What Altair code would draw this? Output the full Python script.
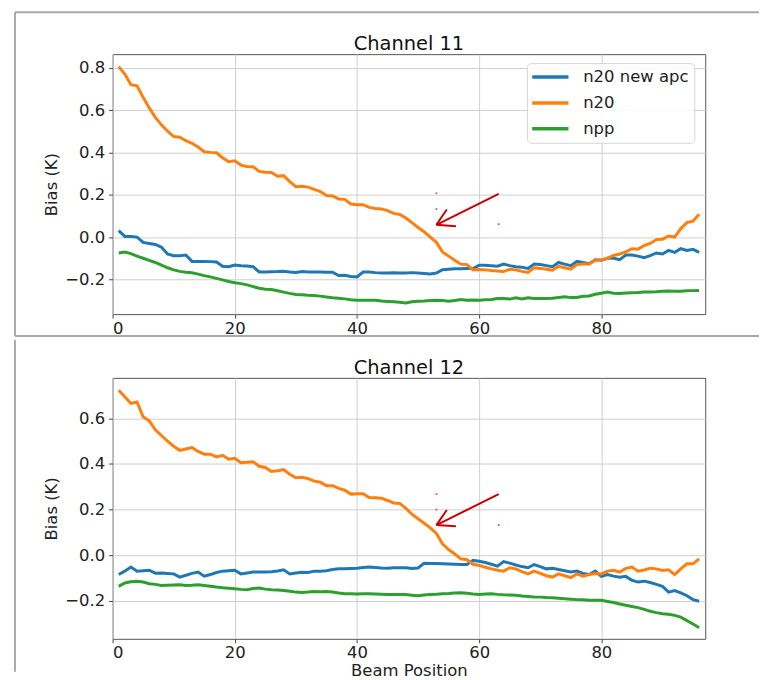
import altair as alt
import pandas as pd

# ---------------- data ----------------
beam = list(range(1, 97))
series_names = ["n20 new apc", "n20", "npp"]
series_colors = ["#1f77b4", "#ff7f0e", "#2ca02c"]

x_ticks = [0, 20, 40, 60, 80]
ch11_y_ticks = [-0.2, 0.0, 0.2, 0.4, 0.6, 0.8]
ch12_y_ticks = [-0.2, 0.0, 0.2, 0.4, 0.6]

ch11_apc = [0.03, 0.003, 0.003, 0.0, -0.025, -0.03, -0.035, -0.048, -0.08, -0.088,
            -0.088, -0.085, -0.115, -0.115, -0.115, -0.116, -0.118, -0.138, -0.14, -0.132,
            -0.135, -0.137, -0.14, -0.165, -0.165, -0.164, -0.163, -0.161, -0.165, -0.167,
            -0.163, -0.165, -0.165, -0.165, -0.166, -0.166, -0.182, -0.18, -0.186, -0.188,
            -0.165, -0.165, -0.168, -0.17, -0.17, -0.169, -0.17, -0.17, -0.168, -0.17,
            -0.172, -0.174, -0.17, -0.154, -0.152, -0.15, -0.15, -0.149, -0.149, -0.133,
            -0.133, -0.135, -0.138, -0.128, -0.135, -0.14, -0.143, -0.148, -0.127, -0.13,
            -0.135, -0.14, -0.12, -0.128, -0.135, -0.115, -0.12, -0.126, -0.107, -0.11,
            -0.1, -0.1, -0.107, -0.085, -0.085, -0.09, -0.097, -0.088, -0.075, -0.08,
            -0.063, -0.072, -0.055, -0.063, -0.058, -0.072]

ch11_n20 = [0.805, 0.77, 0.72, 0.714, 0.66, 0.61, 0.565, 0.53, 0.50, 0.475,
            0.472, 0.455, 0.443, 0.425, 0.403, 0.40, 0.398, 0.375, 0.356, 0.36,
            0.34, 0.333, 0.332, 0.31, 0.306, 0.305, 0.287, 0.29, 0.262, 0.238,
            0.24, 0.236, 0.225, 0.215, 0.196, 0.194, 0.18, 0.178, 0.156, 0.153,
            0.153, 0.14, 0.135, 0.133, 0.125, 0.112, 0.107, 0.09, 0.068, 0.045,
            0.025, 0.0, -0.025, -0.07, -0.09, -0.11, -0.128, -0.13, -0.155, -0.153,
            -0.155, -0.158, -0.16, -0.163, -0.152, -0.155, -0.162, -0.167, -0.145, -0.148,
            -0.152, -0.157, -0.138, -0.145, -0.152, -0.13, -0.127, -0.127, -0.11, -0.107,
            -0.1, -0.087, -0.08, -0.07, -0.055, -0.057, -0.04, -0.03, -0.012, -0.01,
            0.005, 0.0, 0.04, 0.068, 0.075, 0.108]

ch11_npp = [-0.075, -0.071, -0.078, -0.09, -0.1, -0.11, -0.12, -0.133, -0.145, -0.155,
            -0.162, -0.166, -0.169, -0.175, -0.182, -0.188, -0.195, -0.202, -0.21, -0.216,
            -0.22, -0.226, -0.234, -0.242, -0.246, -0.248, -0.254, -0.26, -0.266, -0.271,
            -0.272, -0.275, -0.276, -0.279, -0.283, -0.287, -0.289, -0.292, -0.296, -0.298,
            -0.298, -0.298, -0.298, -0.302, -0.304, -0.306, -0.308, -0.311, -0.306, -0.303,
            -0.302, -0.3, -0.298, -0.3, -0.303, -0.3, -0.295, -0.298, -0.297, -0.298,
            -0.296, -0.295, -0.29, -0.29, -0.293, -0.287, -0.292, -0.287, -0.29, -0.29,
            -0.29, -0.289, -0.285, -0.282, -0.286, -0.285, -0.28, -0.278, -0.27, -0.265,
            -0.26, -0.265, -0.267, -0.264, -0.263, -0.262, -0.26, -0.259, -0.258, -0.256,
            -0.255, -0.256, -0.256, -0.254, -0.253, -0.252]

ch12_apc = [-0.085, -0.07, -0.052, -0.07, -0.068, -0.066, -0.079, -0.078, -0.08, -0.082,
            -0.096, -0.088, -0.08, -0.074, -0.092, -0.085, -0.076, -0.07, -0.068, -0.066,
            -0.082, -0.078, -0.074, -0.074, -0.074, -0.073, -0.069, -0.064, -0.082, -0.078,
            -0.075, -0.076, -0.07, -0.07, -0.068, -0.063, -0.06, -0.06, -0.058, -0.057,
            -0.054, -0.052, -0.054, -0.056, -0.057, -0.055, -0.055, -0.055, -0.058, -0.056,
            -0.035, -0.036, -0.037, -0.038, -0.039, -0.04, -0.041, -0.041, -0.023, -0.027,
            -0.032, -0.04, -0.048, -0.028, -0.035, -0.043, -0.05, -0.055, -0.041, -0.05,
            -0.06, -0.057, -0.063, -0.068, -0.074, -0.07, -0.08, -0.085, -0.07, -0.093,
            -0.085, -0.092, -0.097, -0.093, -0.11, -0.118, -0.114, -0.12, -0.128, -0.137,
            -0.162, -0.155, -0.165, -0.178, -0.195, -0.202]

ch12_n20 = [0.724, 0.695, 0.666, 0.672, 0.607, 0.589, 0.55, 0.525, 0.50, 0.478,
            0.46, 0.466, 0.472, 0.455, 0.443, 0.443, 0.431, 0.438, 0.421, 0.425,
            0.406, 0.408, 0.41, 0.39, 0.385, 0.367, 0.37, 0.376, 0.355, 0.34,
            0.342, 0.336, 0.325, 0.32, 0.305, 0.305, 0.293, 0.285, 0.268, 0.27,
            0.27, 0.253, 0.252, 0.25, 0.24, 0.229, 0.227, 0.205, 0.18, 0.16,
            0.14, 0.12, 0.095, 0.05, 0.025, 0.005, -0.016, -0.02, -0.04, -0.045,
            -0.053, -0.06, -0.066, -0.07, -0.055, -0.06, -0.072, -0.082, -0.07, -0.08,
            -0.09, -0.096, -0.082, -0.09, -0.098, -0.082, -0.092, -0.085, -0.08, -0.082,
            -0.07, -0.066, -0.074, -0.058, -0.052, -0.07, -0.065, -0.057, -0.06, -0.067,
            -0.064, -0.085, -0.06, -0.038, -0.038, -0.016]

ch12_npp = [-0.137, -0.122, -0.117, -0.114, -0.118, -0.125, -0.128, -0.133, -0.132, -0.131,
            -0.13, -0.133, -0.132, -0.13, -0.133, -0.136, -0.14, -0.143, -0.145, -0.147,
            -0.15, -0.152, -0.146, -0.144, -0.149, -0.152, -0.153, -0.155, -0.158, -0.162,
            -0.164, -0.162, -0.159, -0.16, -0.159, -0.162, -0.166, -0.169, -0.169, -0.17,
            -0.169, -0.169, -0.17, -0.171, -0.172, -0.172, -0.172, -0.173, -0.176, -0.178,
            -0.175, -0.172, -0.171, -0.169, -0.168, -0.166, -0.165, -0.167, -0.17, -0.172,
            -0.17, -0.169, -0.172, -0.174, -0.175, -0.176, -0.179, -0.181, -0.183, -0.184,
            -0.186, -0.187, -0.189, -0.191, -0.193, -0.195, -0.196, -0.198, -0.198, -0.198,
            -0.203, -0.208, -0.214, -0.22, -0.225, -0.23, -0.238, -0.246, -0.252, -0.257,
            -0.259, -0.264, -0.272, -0.287, -0.302, -0.318]

# red arrow annotations (shaft + two barbs), in data units
ch11_arrow_x = [63.2, 53.0, 53.0]
ch11_arrow_y = [0.204, 0.058, 0.058]
ch11_arrow_x2 = [53.0, 54.7, 56.2]
ch11_arrow_y2 = [0.058, 0.130, 0.051]
ch11_speck_x = [53.0, 53.0, 63.2]
ch11_speck_y = [0.207, 0.132, 0.061]

ch12_arrow_x = [63.2, 53.0, 53.0]
ch12_arrow_y = [0.268, 0.132, 0.132]
ch12_arrow_x2 = [53.0, 54.7, 56.2]
ch12_arrow_y2 = [0.132, 0.198, 0.127]
ch12_speck_x = [53.0, 53.0, 63.2]
ch12_speck_y = [0.268, 0.200, 0.132]

FONT = "DejaVu Sans"
FRAME = "#a9a9a9"


def long_df(apc, n20, npp):
    rows = []
    for name, vals in zip(series_names, [apc, n20, npp]):
        for b, v in zip(beam, vals):
            rows.append({"series": name, "beam": b, "bias": v})
    return pd.DataFrame(rows)


def frame_rule(x, x2, y, y2):
    return alt.Chart(pd.DataFrame({"k": [0]})).mark_rule(
        color=FRAME, strokeWidth=2
    ).encode(x=alt.value(x), x2=alt.value(x2), y=alt.value(y), y2=alt.value(y2))


def panel(title, apc, n20, npp, yticks, ydom, ax, ay, ax2, ay2, sx, sy,
          w, h, xtitle, frames):
    if xtitle:
        x_axis = alt.Axis(values=x_ticks, format="d", labelPadding=2,
                          titleY=37, titleBaseline="alphabetic")
    else:
        x_axis = alt.Axis(values=x_ticks, format="d", labelPadding=2)
    x_enc = alt.X("beam:Q", scale=alt.Scale(domain=[0, 97], nice=False, zero=False),
                  axis=x_axis, title=xtitle if xtitle else None)
    y_enc = alt.Y("bias:Q", scale=alt.Scale(domain=ydom, nice=False, zero=False),
                  axis=alt.Axis(values=yticks, format=".1f", titleX=-56, titleY=h / 2,
                                titleBaseline="alphabetic", titleAngle=270),
                  title="Bias (K)")
    lines = alt.Chart(long_df(apc, n20, npp)).mark_line(strokeWidth=3).encode(
        x=x_enc,
        y=y_enc,
        order=alt.Order("beam:Q"),
        color=alt.Color(
            "series:N",
            scale=alt.Scale(domain=series_names, range=series_colors),
            sort=series_names,
            legend=alt.Legend(
                title=None, orient="none", legendX=416, legendY=9,
                symbolType="M-2.6,0H2.6", symbolSize=196, symbolStrokeWidth=3.5,
                symbolOffset=9.5,
                labelFontSize=16.5, labelFont=FONT, labelColor="#222",
                labelOffset=24, rowPadding=8, padding=5,
                fillColor="rgba(255,255,255,0.85)", strokeColor="#d6d6d6",
                cornerRadius=4,
            ),
        ),
    )
    arrow = alt.Chart(pd.DataFrame({"beam": ax, "bias": ay, "beam2": ax2, "bias2": ay2})).mark_rule(
        color="#cc0000", strokeWidth=2
    ).encode(x=x_enc, y=y_enc, x2="beam2:Q", y2="bias2:Q")
    specks = alt.Chart(pd.DataFrame({"beam": sx, "bias": sy})).mark_square(
        color="#e02020", size=3, opacity=0.8
    ).encode(x=x_enc, y=y_enc)
    title_mark = alt.Chart(pd.DataFrame({"k": [0]})).mark_text(
        text=title, font=FONT, fontSize=19.5, color="#111", align="center",
        baseline="alphabetic"
    ).encode(x=alt.value(w / 2), y=alt.value(-4))
    layers = [lines, arrow, specks, title_mark] + [frame_rule(*f) for f in frames]
    return alt.layer(*layers).properties(width=w, height=h)


top = panel("Channel 11", ch11_apc, ch11_n20, ch11_npp, ch11_y_ticks, [-0.364, 0.864],
            ch11_arrow_x, ch11_arrow_y, ch11_arrow_x2, ch11_arrow_y2, ch11_speck_x, ch11_speck_y,
            595, 261, None,
            frames=[(-98, 649, -42, -42), (-98, -98, -42, 283), (-98, 649, 283, 283)])

bottom = panel("Channel 12", ch12_apc, ch12_n20, ch12_npp, ch12_y_ticks, [-0.367, 0.778],
               ch12_arrow_x, ch12_arrow_y, ch12_arrow_x2, ch12_arrow_y2, ch12_speck_x, ch12_speck_y,
               595, 262, "Beam Position",
               frames=[(-98, -98, -38, 295)])

chart = alt.vconcat(top, bottom, spacing=0).properties(
    padding={"left": 5, "top": 1, "right": 0, "bottom": 0}
).configure(font=FONT).configure_view(
    stroke="#555555", strokeWidth=1
).configure_axis(
    labelFont=FONT, titleFont=FONT, labelFontSize=16.5, titleFontSize=16.5,
    labelColor="#222", titleColor="#222", titleFontWeight="normal",
    tickSize=4, tickColor="#444", labelPadding=4, domain=False,
    grid=True, gridColor="#cfcfcf", gridWidth=1,
)

chart.save("out.html", embed_options={"renderer": "svg", "actions": False})
